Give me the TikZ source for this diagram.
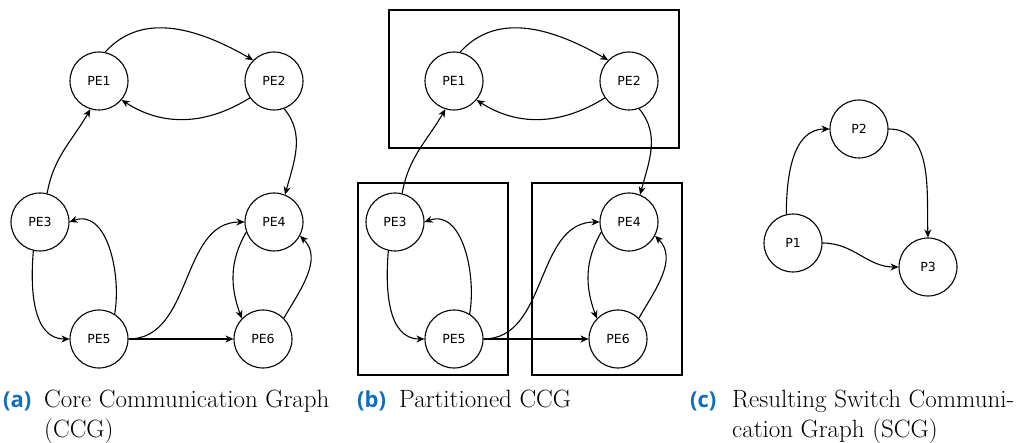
\documentclass[tikz,border=0pt]{standalone}
\usepackage{fontspec}
\newfontfamily\nodefont{DejaVu Sans}
\newfontfamily\tagfont{Open Sans}
\usetikzlibrary{arrows.meta}
\definecolor{tagblue}{RGB}{16,110,190}
\tikzset{
  pe/.style={draw, circle, line width=1.1pt, minimum size=58pt, inner sep=0pt,
    font=\nodefont\fontsize{12.5}{14}\selectfont},
  link/.style={line width=1.1pt, -{Stealth[length=8pt,width=7pt,inset=2.5pt]}},
  part/.style={draw, line width=1.1pt},
  subtag/.style={anchor=base west, inner sep=0pt, text=tagblue,
    font=\tagfont\bfseries\fontsize{22}{30}\selectfont},
  subtext/.style={anchor=base west, inner sep=0pt, align=left,
    font=\fontsize{25}{30}\selectfont},
}

\begin{document}
\begin{tikzpicture}[x=1pt,y=-1pt]
\useasboundingbox (0,0) rectangle (1030,443);

% Partitions of the CCG
\draw[part] (389,10) rectangle (679,148);
\draw[part] (358,183) rectangle (508,375);
\draw[part] (532,183) rectangle (682,375);

% Core communication graph, (a) and (b)
\foreach \g/\dx in {a/0,b/355}{
  \begin{scope}[xshift=\dx pt]
    \node[pe] (\g1) at (99,81) {PE1};
    \node[pe] (\g2) at (274,81) {PE2};
    \node[pe] (\g3) at (40,222) {PE3};
    \node[pe] (\g4) at (274,222) {PE4};
    \node[pe] (\g5) at (99,339) {PE5};
    \node[pe] (\g6) at (263,339) {PE6};

    \draw[link] (\g1.78) to[out=48,in=150] (\g2.135);
    \draw[link] (\g2.215) to[out=212,in=-33] (\g1.-40);
    \draw[link] (\g2.-70) to[out=-50,in=75] (\g4.68);
    \draw[link] (\g3.76) to[out=80,in=-120] (\g1.-107);
    \draw[link] (\g3.-103) to[out=-95,in=180] (\g5.west);
    \draw[link] (\g5.58) to[out=80,in=20] (\g3.east);
    \draw[link] (\g5.east) to[out=0,in=180] (\g4.west);
    \draw[link] (\g5.east) -- (\g6.west);
    \draw[link] (\g4.200) to[out=240,in=110] (\g6.136);
    \draw[link] (\g6.45) to[out=60,in=-45] (\g4.-28);
  \end{scope}
}

% Switch communication graph
\node[pe] (p1) at (793,243) {P1};
\node[pe] (p2) at (859,129) {P2};
\node[pe] (p3) at (928,267) {P3};

\draw[link] (p1.103) to[out=90,in=180] (p2.west);
\draw[link] (p2.east) to[out=0,in=92] (p3.north);
\draw[link] (p1.east) to[out=0,in=180] (p3.west);

% Captions
\node[subtag] (tag a) at (3,407) {(a)};
\node[subtext] (cap a) at (44,437) {Core Communication Graph\\(CCG)};
\node[subtag] (tag b) at (357,407) {(b)};
\node[subtext] (cap b) at (399,407) {Partitioned CCG};
\node[subtag] (tag c) at (690,407) {(c)};
\node[subtext] (cap c) at (732,437) {Resulting Switch Communi-\\cation Graph (SCG)};
\end{tikzpicture}
\end{document}
